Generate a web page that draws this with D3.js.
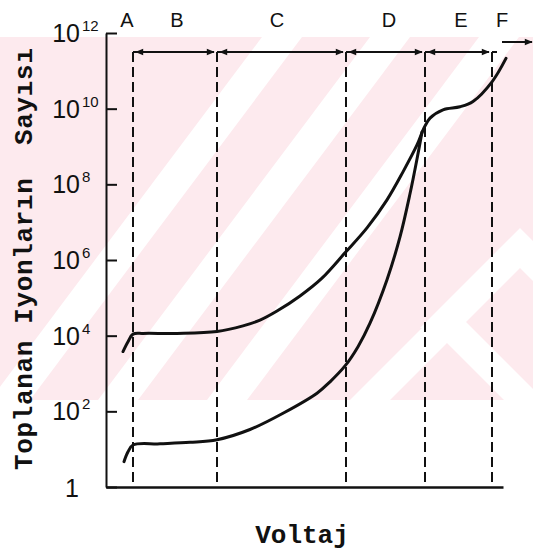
<!DOCTYPE html>
<html>
<head>
<meta charset="utf-8">
<script src="https://cdn.jsdelivr.net/npm/d3@7"></script>
<style>
  body { margin: 0; background: #fff; }
  svg { display: block; }
</style>
</head>
<body>
<div id="chart"></div>
<script>
const W = 533, H = 553;

// region boundaries on the voltage axis (arbitrary units) and their letters
const regionBounds = [27, 111, 240, 319, 386];
const regionLetters = ["A", "B", "C", "D", "E", "F"];
const letterPos = [21, 71, 171, 283, 355, 396];

// y ticks as powers of ten
const tickExps = [0, 2, 4, 6, 8, 10, 12];

// upper curve (voltage, log10 of collected ions)
const upperV = [17, 22, 27, 37, 71, 111, 137, 154, 171, 194, 216, 239, 261, 281, 297, 311, 318, 324, 337, 354, 367, 386, 400];
const upperExp = [3.58, 3.84, 4.04, 4.06, 4.06, 4.11, 4.26, 4.41, 4.65, 5.05, 5.52, 6.19, 6.85, 7.59, 8.33, 9.04, 9.49, 9.75, 9.97, 10.05, 10.19, 10.71, 11.33];

// lower curve
const lowerV = [18, 22, 27, 54, 84, 111, 144, 177, 211, 224, 239, 252, 264, 281, 294, 304, 311, 316];
const lowerExp = [0.67, 0.93, 1.11, 1.14, 1.18, 1.25, 1.52, 1.95, 2.48, 2.78, 3.2, 3.71, 4.33, 5.48, 6.61, 7.75, 8.67, 9.38];

const svg = d3.select("#chart").append("svg")
  .attr("width", W)
  .attr("height", H);

// faint watermark behind the figure
const defs = svg.append("defs");
defs.append("clipPath").attr("id", "wm")
  .append("rect").attr("x", 0).attr("y", 37).attr("width", W).attr("height", 363);

defs.append("marker")
  .attr("id", "arr")
  .attr("viewBox", "0 -5 10 10")
  .attr("refX", 9).attr("refY", 0)
  .attr("markerWidth", 10).attr("markerHeight", 8)
  .attr("markerUnits", "userSpaceOnUse")
  .attr("orient", "auto-start-reverse")
  .append("path").attr("d", "M0,-4L10,0L0,4Z").attr("fill", "#111");

const wm = svg.append("g").attr("clip-path", "url(#wm)");
wm.append("rect").attr("x", 0).attr("y", 37).attr("width", W).attr("height", 363).attr("fill", "#fdeaee");
[-10, 98, 207].forEach(x0 => {
  wm.append("polygon")
    .attr("points", `${x0},400 ${x0 + 40},400 ${x0 + 40 + 272},37 ${x0 + 272},37`)
    .attr("fill", "#fff");
});
[[447, 303], [520, 228]].forEach(([ax, ay]) => {
  wm.append("polygon")
    .attr("points", `${ax - 100},${ay + 100} ${ax},${ay} ${ax + 100},${ay + 100} ${ax + 60},${ay + 100} ${ax},${ay + 40} ${ax - 60},${ay + 100}`)
    .attr("fill", "#fff");
});

const x = d3.scaleLinear().domain([0, 397]).range([106, 503]);
const y = d3.scaleLog().domain([1, 1e12]).range([487, 33]);

// y axis with inward ticks
svg.append("g")
  .attr("transform", `translate(${x(0)},0)`)
  .call(d3.axisRight(y).tickValues(tickExps.map(e => Math.pow(10, e))).tickSize(11).tickSizeOuter(0).tickFormat(""))
  .call(g => g.selectAll("path, line").attr("stroke", "#111").attr("stroke-width", 2));

// x axis, no ticks
svg.append("g")
  .attr("transform", `translate(0,${y(1)})`)
  .call(d3.axisBottom(x).tickValues([]).tickSizeOuter(0))
  .call(g => g.select("path").attr("stroke", "#111").attr("stroke-width", 2.5));

// tick labels
const lab = svg.append("g")
  .style("font-family", "'Liberation Sans', Arial, sans-serif")
  .attr("fill", "#111");
tickExps.forEach(e => {
  const yy = y(Math.pow(10, e));
  if (e === 0) {
    lab.append("text").attr("x", 72).attr("y", yy + 10)
      .attr("text-anchor", "middle").style("font-size", "25px").text("1");
    return;
  }
  lab.append("text").attr("x", 80).attr("y", yy + 9)
    .attr("text-anchor", "end").style("font-size", "25px").text("10");
  lab.append("text").attr("x", 82).attr("y", yy - 2)
    .style("font-size", "15px").text(e);
});

// dashed region boundaries
svg.append("g").selectAll("line")
  .data(regionBounds)
  .join("line")
  .attr("x1", d => x(d)).attr("x2", d => x(d))
  .attr("y1", 52).attr("y2", y(1))
  .attr("stroke", "#111").attr("stroke-width", 2)
  .attr("stroke-dasharray", "10,5");

// double arrows across each region
svg.append("g").selectAll("line")
  .data(d3.pairs(regionBounds))
  .join("line")
  .attr("x1", d => x(d[0]) + 3).attr("x2", d => x(d[1]) - 3)
  .attr("y1", 52).attr("y2", 52)
  .attr("stroke", "#111").attr("stroke-width", 2)
  .attr("marker-start", "url(#arr)")
  .attr("marker-end", "url(#arr)");

// short corners at top of dashed lines
svg.append("g").selectAll("line")
  .data(regionBounds)
  .join("line")
  .attr("x1", d => x(d)).attr("x2", d => x(d) + 5)
  .attr("y1", 52).attr("y2", 52)
  .attr("stroke", "#111").attr("stroke-width", 2);

// region F arrow off to the right
svg.append("line")
  .attr("x1", 502).attr("x2", 532).attr("y1", 42).attr("y2", 42)
  .attr("stroke", "#111").attr("stroke-width", 2)
  .attr("marker-end", "url(#arr)");

// region letters
svg.append("g").selectAll("text")
  .data(regionLetters)
  .join("text")
  .attr("x", (d, i) => x(letterPos[i]))
  .attr("y", 27)
  .attr("text-anchor", "middle")
  .style("font-family", "'Liberation Sans', Arial, sans-serif")
  .style("font-size", "20px")
  .attr("fill", "#111")
  .text(d => d);

// curves
const line = d3.line()
  .x(d => x(d[0]))
  .y(d => y(Math.pow(10, d[1])))
  .curve(d3.curveCatmullRom.alpha(0.5));

[[upperV, upperExp], [lowerV, lowerExp]].forEach(([vs, es]) => {
  svg.append("path")
    .datum(vs.map((v, i) => [v, es[i]]))
    .attr("d", line)
    .attr("fill", "none")
    .attr("stroke", "#111")
    .attr("stroke-width", 3)
    .attr("stroke-linecap", "round");
});

// axis titles
svg.append("text")
  .attr("transform", "translate(32,259) rotate(-90)")
  .attr("text-anchor", "middle")
  .attr("textLength", 422)
  .attr("lengthAdjust", "spacing")
  .style("white-space", "pre")
  .style("font-family", "'Liberation Mono', 'DejaVu Sans Mono', monospace")
  .style("font-weight", "bold")
  .style("font-size", "26px")
  .attr("fill", "#111")
  .text("Toplanan Iyonların  Sayısı");

svg.append("text")
  .attr("x", 302)
  .attr("y", 543)
  .attr("text-anchor", "middle")
  .style("font-family", "'Liberation Mono', 'DejaVu Sans Mono', monospace")
  .style("font-weight", "bold")
  .style("font-size", "26px")
  .attr("fill", "#111")
  .text("Voltaj");
</script>
</body>
</html>
